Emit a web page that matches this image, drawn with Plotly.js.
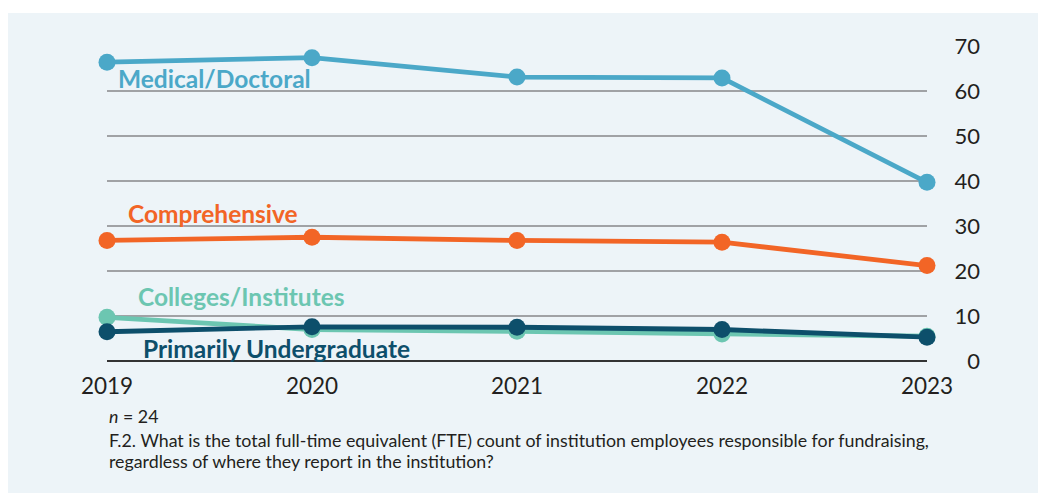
<!DOCTYPE html>
<html>
<head>
<meta charset="utf-8">
<script src="https://cdn.plot.ly/plotly-3.0.1.min.js"></script>
<style>
html,body{margin:0;padding:0;background:#ffffff;}
#chart{position:absolute;left:8px;top:13px;width:1030px;height:480px;}
</style>
</head>
<body>
<div id="chart"></div>
<script>
const years = [2019, 2020, 2021, 2022, 2023];
const medicalDoctoral = [66.4, 67.4, 63.1, 62.9, 39.7];
const comprehensive = [26.8, 27.5, 26.8, 26.4, 21.2];
const collegesInstitutes = [9.7, 7.0, 6.6, 6.0, 5.5];
const primarilyUndergrad = [6.5, 7.6, 7.5, 7.0, 5.3];
const yTicks = [0, 10, 20, 30, 40, 50, 60, 70];

const FONT = 'Lato, "Open Sans", sans-serif';
const L = 99, T = 33, W = 875, H = 315;
const px = x => (x - 8 - L) / W;
const py = y => (T + H - (y - 13)) / H;

function series(y, color, name) {
  return {
    x: years, y: y, name: name, type: 'scatter', mode: 'lines+markers',
    line: {color: color, width: 4.8},
    marker: {color: color, size: 17},
    cliponaxis: false, hoverinfo: 'x+y'
  };
}

const data = [
  series(medicalDoctoral, '#4BA8C8', 'Medical/Doctoral'),
  series(comprehensive, '#F26526', 'Comprehensive'),
  series(collegesInstitutes, '#6CC6B1', 'Colleges/Institutes'),
  series(primarilyUndergrad, '#0D4F6B', 'Primarily Undergraduate')
];

function lab(text, xPage, yPage, color) {
  return {text: text, xref: 'paper', yref: 'paper', x: px(xPage), y: py(yPage),
    xanchor: 'left', yanchor: 'middle', showarrow: false,
    font: {family: FONT, size: 24.5, color: color, weight: 'bold'}};
}

function foot(text, yPage) {
  return {text: text, xref: 'paper', yref: 'paper', x: px(107), y: py(yPage),
    xanchor: 'left', yanchor: 'middle', showarrow: false, align: 'left',
    font: {family: FONT, size: 17.8, color: '#231F20'}};
}

const annotations = [
  lab('Medical/Doctoral', 116, 78, '#4BA8C8'),
  lab('Comprehensive', 126, 213, '#F26526'),
  lab('Colleges/Institutes', 136, 296, '#6CC6B1'),
  lab('Primarily Undergraduate', 141, 348, '#0D4F6B'),
  foot('<i>n</i> = 24', 416),
  foot('F.2. What is the total full-time equivalent (FTE) count of institution employees responsible for fundraising,', 440),
  foot('regardless of where they report in the institution?', 461)
];

const layout = {
  width: 1030, height: 480,
  margin: {l: L, r: 1030 - L - W, t: T, b: 480 - T - H, pad: 0},
  paper_bgcolor: '#EDF4F8', plot_bgcolor: 'rgba(0,0,0,0)',
  showlegend: false,
  font: {family: FONT, color: '#231F20'},
  xaxis: {
    domain: [0, 820 / W], range: [2019, 2023], tickvals: years,
    ticktext: years.map(String), showgrid: false, zeroline: false,
    showline: false, ticks: '', ticklabelstandoff: 9,
    tickfont: {family: FONT, size: 22.5, color: '#231F20'}, fixedrange: true
  },
  yaxis: {
    range: [0, 70], tickvals: yTicks, anchor: 'free', position: 1, side: 'left',
    showgrid: true, gridcolor: '#A0A2A5', gridwidth: 1.3,
    zeroline: true, zerolinecolor: '#333333', zerolinewidth: 2,
    showline: false, ticks: '', ticklabelstandoff: 2,
    tickfont: {family: FONT, size: 22, color: '#231F20'}, fixedrange: true
  },
  annotations: annotations
};

Plotly.newPlot('chart', data, layout, {displayModeBar: false, staticPlot: true});
</script>
</body>
</html>
